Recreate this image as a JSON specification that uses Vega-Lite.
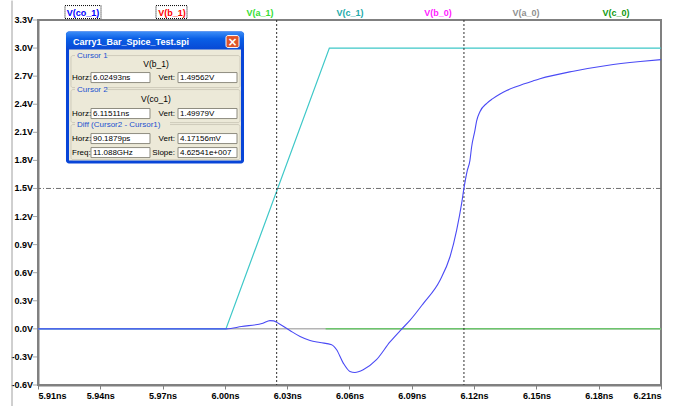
{
  "$schema": "https://vega.github.io/schema/vega-lite/v6.json",
  "width": 623,
  "height": 365,
  "autosize": "none",
  "padding": {"left": 38, "top": 20, "right": 13, "bottom": 21},
  "background": "white",
  "config": {
    "view": {"stroke": "#808080", "strokeWidth": 2},
    "axis": {"domainColor": "#808080", "domainWidth": 2, "tickColor": "#808080", "tickSize": 4, "labelFont": "Liberation Sans", "labelFontSize": 9, "labelFontWeight": "bold", "labelColor": "#000000", "grid": false, "title": null},
    "axisX": {"labelPadding": 2},
    "axisY": {"labelPadding": 1}
  },
  "datasets": {
    "curves": [
      {"s": "a0", "t": 5.91, "v": 0}, {"s": "a0", "t": 6.21, "v": 0},
      {"s": "c0", "t": 6.0485, "v": 0}, {"s": "c0", "t": 6.21, "v": 0},
      {"s": "c1", "t": 5.91, "v": 0}, {"s": "c1", "t": 6.0005, "v": 0}, {"s": "c1", "t": 6.0503, "v": 3.0}, {"s": "c1", "t": 6.21, "v": 3.0},
      {"s": "co1", "t": 5.91, "v": 0},
      {"s": "co1", "t": 6.0009, "v": 0},
      {"s": "co1", "t": 6.008, "v": 0.025},
      {"s": "co1", "t": 6.0183, "v": 0.06},
      {"s": "co1", "t": 6.0217, "v": 0.088},
      {"s": "co1", "t": 6.0235, "v": 0.085},
      {"s": "co1", "t": 6.0257, "v": 0.06},
      {"s": "co1", "t": 6.0313, "v": -0.018},
      {"s": "co1", "t": 6.0362, "v": -0.082},
      {"s": "co1", "t": 6.041, "v": -0.124},
      {"s": "co1", "t": 6.0458, "v": -0.146},
      {"s": "co1", "t": 6.0514, "v": -0.17},
      {"s": "co1", "t": 6.0538, "v": -0.224},
      {"s": "co1", "t": 6.057, "v": -0.366},
      {"s": "co1", "t": 6.0602, "v": -0.455},
      {"s": "co1", "t": 6.0626, "v": -0.466},
      {"s": "co1", "t": 6.0666, "v": -0.437},
      {"s": "co1", "t": 6.073, "v": -0.33},
      {"s": "co1", "t": 6.0795, "v": -0.14},
      {"s": "co1", "t": 6.0848, "v": -0.01},
      {"s": "co1", "t": 6.0891, "v": 0.09},
      {"s": "co1", "t": 6.0955, "v": 0.27},
      {"s": "co1", "t": 6.1036, "v": 0.52},
      {"s": "co1", "t": 6.1084, "v": 0.77},
      {"s": "co1", "t": 6.1116, "v": 1.055},
      {"s": "co1", "t": 6.114, "v": 1.34},
      {"s": "co1", "t": 6.1151, "v": 1.5},
      {"s": "co1", "t": 6.1167, "v": 1.69},
      {"s": "co1", "t": 6.118, "v": 1.8},
      {"s": "co1", "t": 6.1188, "v": 1.943},
      {"s": "co1", "t": 6.1204, "v": 2.12},
      {"s": "co1", "t": 6.1212, "v": 2.22},
      {"s": "co1", "t": 6.1228, "v": 2.32},
      {"s": "co1", "t": 6.1261, "v": 2.41},
      {"s": "co1", "t": 6.129, "v": 2.46},
      {"s": "co1", "t": 6.1325, "v": 2.51},
      {"s": "co1", "t": 6.1357, "v": 2.547},
      {"s": "co1", "t": 6.1405, "v": 2.59},
      {"s": "co1", "t": 6.1485, "v": 2.65},
      {"s": "co1", "t": 6.1517, "v": 2.672},
      {"s": "co1", "t": 6.1678, "v": 2.753},
      {"s": "co1", "t": 6.1839, "v": 2.814},
      {"s": "co1", "t": 6.2, "v": 2.856},
      {"s": "co1", "t": 6.21, "v": 2.877}
    ],
    "yticks": [
      {"v": -0.6, "label": "-0.6V"}, {"v": -0.3, "label": "-0.3V"}, {"v": 0.0, "label": "0.0V"},
      {"v": 0.3, "label": "0.3V"}, {"v": 0.6, "label": "0.6V"}, {"v": 0.9, "label": "0.9V"},
      {"v": 1.2, "label": "1.2V"}, {"v": 1.5, "label": "1.5V"}, {"v": 1.8, "label": "1.8V"},
      {"v": 2.1, "label": "2.1V"}, {"v": 2.4, "label": "2.4V"}, {"v": 2.7, "label": "2.7V"},
      {"v": 3.0, "label": "3.0V"}, {"v": 3.3, "label": "3.3V"}
    ]
  },
  "layer": [
    {
      "data": {"name": "curves"},
      "transform": [{"filter": "datum.s === 'a0'"}],
      "mark": {"type": "line", "color": "#b4b4b4", "strokeWidth": 1.5},
      "encoding": {
        "x": {"field": "t", "type": "quantitative", "scale": {"domain": [5.91, 6.21], "nice": false, "zero": false}, "axis": {"title": null, "labelOverlap": false, "labelBound": false, "values": [5.91, 5.94, 5.97, 6.0, 6.03, 6.06, 6.09, 6.12, 6.15, 6.18, 6.21], "labelExpr": "format(datum.value,'.2f')+'ns'"}},
        "y": {"field": "v", "type": "quantitative", "scale": {"domain": [-0.6, 3.3], "nice": false, "zero": false}, "axis": {"title": null, "labels": false, "ticks": false}}
      }
    },
    {
      "data": {"name": "yticks"},
      "mark": {"type": "tick", "orient": "horizontal", "color": "#808080", "size": 5, "thickness": 1, "xOffset": -2.5},
      "encoding": {"x": {"datum": 5.91, "type": "quantitative"}, "y": {"field": "v", "type": "quantitative"}}
    },
    {
      "data": {"name": "yticks"},
      "mark": {"type": "text", "font": "Liberation Sans", "fontSize": 9, "fontWeight": "bold", "color": "#000000", "align": "right", "baseline": "middle", "dx": -5},
      "encoding": {"x": {"datum": 5.91, "type": "quantitative"}, "y": {"field": "v", "type": "quantitative"}, "text": {"field": "label"}}
    },
    {
      "data": {"name": "curves"},
      "transform": [{"filter": "datum.s === 'c0'"}],
      "mark": {"type": "line", "color": "#6cc46c", "strokeWidth": 1.5},
      "encoding": {"x": {"field": "t", "type": "quantitative"}, "y": {"field": "v", "type": "quantitative"}}
    },
    {
      "data": {"name": "curves"},
      "transform": [{"filter": "datum.s === 'c1'"}],
      "mark": {"type": "line", "color": "#3ec8c8", "strokeWidth": 1.2},
      "encoding": {"x": {"field": "t", "type": "quantitative"}, "y": {"field": "v", "type": "quantitative"}}
    },
    {
      "data": {"values": [{"v": 1.5}]},
      "mark": {"type": "rule", "color": "#707070", "strokeWidth": 1, "strokeDash": [5, 2, 1, 2]},
      "encoding": {"y": {"field": "v", "type": "quantitative"}}
    },
    {
      "data": {"values": [{"t": 6.02493}, {"t": 6.11511}]},
      "mark": {"type": "rule", "color": "#303030", "strokeWidth": 1, "strokeDash": [2, 2]},
      "encoding": {"x": {"field": "t", "type": "quantitative"}}
    },
    {
      "data": {"name": "curves"},
      "transform": [{"filter": "datum.s === 'co1'"}],
      "mark": {"type": "line", "color": "#4a4af5", "strokeWidth": 1.1, "interpolate": "monotone"},
      "encoding": {"x": {"field": "t", "type": "quantitative"}, "y": {"field": "v", "type": "quantitative"}}
    },
    {
      "data": {"values": [{"t": 5.89748, "v": 3.5076, "v2": -0.83}]},
      "mark": {"type": "rule", "color": "#a0a0a0", "strokeWidth": 1},
      "encoding": {"x": {"field": "t", "type": "quantitative"}, "y": {"field": "v", "type": "quantitative"}, "y2": {"field": "v2"}}
    },
    {
      "data": {"values": [
        {"label": "V(co_1)", "t": 5.93167, "v": 3.379},
        {"label": "V(b_1)", "t": 5.97453, "v": 3.379},
        {"label": "V(a_1)", "t": 6.0169, "v": 3.379},
        {"label": "V(c_1)", "t": 6.06024, "v": 3.379},
        {"label": "V(b_0)", "t": 6.10262, "v": 3.379},
        {"label": "V(a_0)", "t": 6.14499, "v": 3.379},
        {"label": "V(c_0)", "t": 6.18833, "v": 3.379}
      ]},
      "mark": {"type": "text", "font": "Liberation Sans", "fontSize": 9, "fontWeight": "bold", "align": "center", "baseline": "middle"},
      "encoding": {
        "x": {"field": "t", "type": "quantitative"},
        "y": {"field": "v", "type": "quantitative"},
        "text": {"field": "label"},
        "color": {"field": "label", "type": "nominal", "legend": null, "scale": {"domain": ["V(co_1)", "V(b_1)", "V(a_1)", "V(c_1)", "V(b_0)", "V(a_0)", "V(c_0)"], "range": ["#0000ff", "#ff0000", "#33dd33", "#22aaaa", "#ff22ff", "#909090", "#119911"]}}
      }
    },
    {
      "data": {"values": [
        {"t": 5.923, "t2": 5.94034, "v": 3.4543, "v2": 3.3154},
        {"t": 5.96682, "t2": 5.98175, "v": 3.4543, "v2": 3.3154}
      ]},
      "mark": {"type": "rect", "fillOpacity": 0, "stroke": "#000000", "strokeWidth": 1, "strokeDash": [1, 1]},
      "encoding": {"x": {"field": "t", "type": "quantitative"}, "x2": {"field": "t2"}, "y": {"field": "v", "type": "quantitative"}, "y2": {"field": "v2"}}
    },
    {
      "data": {"values": [{"t": 5.92348, "t2": 6.0092, "v": 3.1764, "v2": 1.7661}]},
      "mark": {"type": "rect", "fill": "#0845d8", "cornerRadius": 3},
      "encoding": {"x": {"field": "t", "type": "quantitative"}, "x2": {"field": "t2"}, "y": {"field": "v", "type": "quantitative"}, "y2": {"field": "v2"}}
    },
    {
      "data": {"values": [{"t": 5.92348, "t2": 6.0092, "v": 3.1764, "v2": 2.984}]},
      "mark": {"type": "rect", "cornerRadius": 3, "fill": {"gradient": "linear", "x1": 0, "y1": 0, "x2": 0, "y2": 1, "stops": [{"offset": 0, "color": "#3d8ef7"}, {"offset": 0.4, "color": "#0a5fe6"}, {"offset": 1, "color": "#0848d4"}]}},
      "encoding": {"x": {"field": "t", "type": "quantitative"}, "x2": {"field": "t2"}, "y": {"field": "v", "type": "quantitative"}, "y2": {"field": "v2"}}
    },
    {
      "data": {"values": [{"t": 5.92493, "t2": 6.00775, "v": 2.984, "v2": 1.7981}]},
      "mark": {"type": "rect", "fill": "#ece9d8"},
      "encoding": {"x": {"field": "t", "type": "quantitative"}, "x2": {"field": "t2"}, "y": {"field": "v", "type": "quantitative"}, "y2": {"field": "v2"}}
    },
    {
      "data": {"values": [
        {"t": 5.92589, "t2": 6.00727, "v": 2.92, "v2": 2.578},
        {"t": 5.92589, "t2": 6.00727, "v": 2.5567, "v2": 2.2039},
        {"t": 5.92589, "t2": 6.00727, "v": 2.1828, "v2": 1.8081}
      ]},
      "mark": {"type": "rect", "fillOpacity": 0, "stroke": "#cfcbbb", "strokeWidth": 1, "cornerRadius": 2},
      "encoding": {"x": {"field": "t", "type": "quantitative"}, "x2": {"field": "t2"}, "y": {"field": "v", "type": "quantitative"}, "y2": {"field": "v2"}}
    },
    {
      "data": {"values": [
        {"t": 5.92782, "t2": 5.94322, "v": 2.952, "v2": 2.8879},
        {"t": 5.92782, "t2": 5.94322, "v": 2.5887, "v2": 2.5246},
        {"t": 5.92782, "t2": 5.97356, "v": 2.2148, "v2": 2.1507}
      ]},
      "mark": {"type": "rect", "fill": "#ece9d8"},
      "encoding": {"x": {"field": "t", "type": "quantitative"}, "x2": {"field": "t2"}, "y": {"field": "v", "type": "quantitative"}, "y2": {"field": "v2"}}
    },
    {
      "data": {"values": [
        {"t": 5.93552, "t2": 5.96393, "v": 2.7384, "v2": 2.6315},
        {"t": 5.97742, "t2": 6.00583, "v": 2.7384, "v2": 2.6315},
        {"t": 5.93552, "t2": 5.96393, "v": 2.3543, "v2": 2.247},
        {"t": 5.97742, "t2": 6.00583, "v": 2.3543, "v2": 2.247},
        {"t": 5.93552, "t2": 5.96393, "v": 2.0866, "v2": 1.9798},
        {"t": 5.97742, "t2": 6.00583, "v": 2.0866, "v2": 1.9798},
        {"t": 5.93552, "t2": 5.96393, "v": 1.937, "v2": 1.8301},
        {"t": 5.97742, "t2": 6.00583, "v": 1.937, "v2": 1.8301}
      ]},
      "mark": {"type": "rect", "fill": "#ffffff", "stroke": "#8e8c80", "strokeWidth": 1},
      "encoding": {"x": {"field": "t", "type": "quantitative"}, "x2": {"field": "t2"}, "y": {"field": "v", "type": "quantitative"}, "y2": {"field": "v2"}}
    },
    {
      "data": {"values": [{"t": 6.00053, "t2": 6.00679, "v": 3.1336, "v2": 3.0054}]},
      "mark": {"type": "rect", "fill": "#e0552a", "stroke": "#ffffff", "strokeWidth": 1, "cornerRadius": 2},
      "encoding": {"x": {"field": "t", "type": "quantitative"}, "x2": {"field": "t2"}, "y": {"field": "v", "type": "quantitative"}, "y2": {"field": "v2"}}
    },
    {
      "data": {"values": [{"label": "×", "t": 6.00366, "v": 3.0695}]},
      "mark": {"type": "text", "font": "DejaVu Sans", "fontSize": 12, "fontWeight": "bold", "color": "#ffffff", "align": "center", "baseline": "middle"},
      "encoding": {"x": {"field": "t", "type": "quantitative"}, "y": {"field": "v", "type": "quantitative"}, "text": {"field": "label"}}
    },
    {
      "data": {"values": [{"label": "Carry1_Bar_Spice_Test.spi", "t": 5.92685, "v": 3.0695}]},
      "mark": {"type": "text", "font": "Liberation Sans", "fontSize": 9, "fontWeight": "bold", "color": "#ffffff", "align": "left", "baseline": "middle"},
      "encoding": {"x": {"field": "t", "type": "quantitative"}, "y": {"field": "v", "type": "quantitative"}, "text": {"field": "label"}}
    },
    {
      "data": {"values": [
        {"label": "Cursor 1", "t": 5.92878, "v": 2.92},
        {"label": "Cursor 2", "t": 5.92878, "v": 2.5567},
        {"label": "Diff (Cursor2 - Cursor1)", "t": 5.92878, "v": 2.1828}
      ]},
      "mark": {"type": "text", "font": "Liberation Sans", "fontSize": 8, "color": "#1a50d0", "align": "left", "baseline": "middle"},
      "encoding": {"x": {"field": "t", "type": "quantitative"}, "y": {"field": "v", "type": "quantitative"}, "text": {"field": "label"}}
    },
    {
      "data": {"values": [
        {"label": "V(b_1)", "t": 5.96682, "v": 2.8345},
        {"label": "V(co_1)", "t": 5.96682, "v": 2.4605}
      ]},
      "mark": {"type": "text", "font": "Liberation Sans", "fontSize": 8.5, "color": "#000000", "align": "center", "baseline": "middle"},
      "encoding": {"x": {"field": "t", "type": "quantitative"}, "y": {"field": "v", "type": "quantitative"}, "text": {"field": "label"}}
    },
    {
      "data": {"values": [
        {"label": "Horz:", "t": 5.92637, "v": 2.6849},
        {"label": "Horz:", "t": 5.92637, "v": 2.3002},
        {"label": "Horz:", "t": 5.92637, "v": 2.0331},
        {"label": "Freq:", "t": 5.92637, "v": 1.8835}
      ]},
      "mark": {"type": "text", "font": "Liberation Sans", "fontSize": 8, "color": "#000000", "align": "left", "baseline": "middle"},
      "encoding": {"x": {"field": "t", "type": "quantitative"}, "y": {"field": "v", "type": "quantitative"}, "text": {"field": "label"}}
    },
    {
      "data": {"values": [
        {"label": "Vert:", "t": 5.97597, "v": 2.6849},
        {"label": "Vert:", "t": 5.97597, "v": 2.3002},
        {"label": "Vert:", "t": 5.97597, "v": 2.0331},
        {"label": "Slope:", "t": 5.97597, "v": 1.8835}
      ]},
      "mark": {"type": "text", "font": "Liberation Sans", "fontSize": 8, "color": "#000000", "align": "right", "baseline": "middle"},
      "encoding": {"x": {"field": "t", "type": "quantitative"}, "y": {"field": "v", "type": "quantitative"}, "text": {"field": "label"}}
    },
    {
      "data": {"values": [
        {"label": "6.02493ns", "t": 5.93648, "v": 2.6849},
        {"label": "1.49562V", "t": 5.97838, "v": 2.6849},
        {"label": "6.11511ns", "t": 5.93648, "v": 2.3002},
        {"label": "1.49979V", "t": 5.97838, "v": 2.3002},
        {"label": "90.1879ps", "t": 5.93648, "v": 2.0331},
        {"label": "4.17156mV", "t": 5.97838, "v": 2.0331},
        {"label": "11.088GHz", "t": 5.93648, "v": 1.8835},
        {"label": "4.62541e+007", "t": 5.97838, "v": 1.8835}
      ]},
      "mark": {"type": "text", "font": "Liberation Sans", "fontSize": 8, "color": "#000000", "align": "left", "baseline": "middle"},
      "encoding": {"x": {"field": "t", "type": "quantitative"}, "y": {"field": "v", "type": "quantitative"}, "text": {"field": "label"}}
    }
  ]
}
